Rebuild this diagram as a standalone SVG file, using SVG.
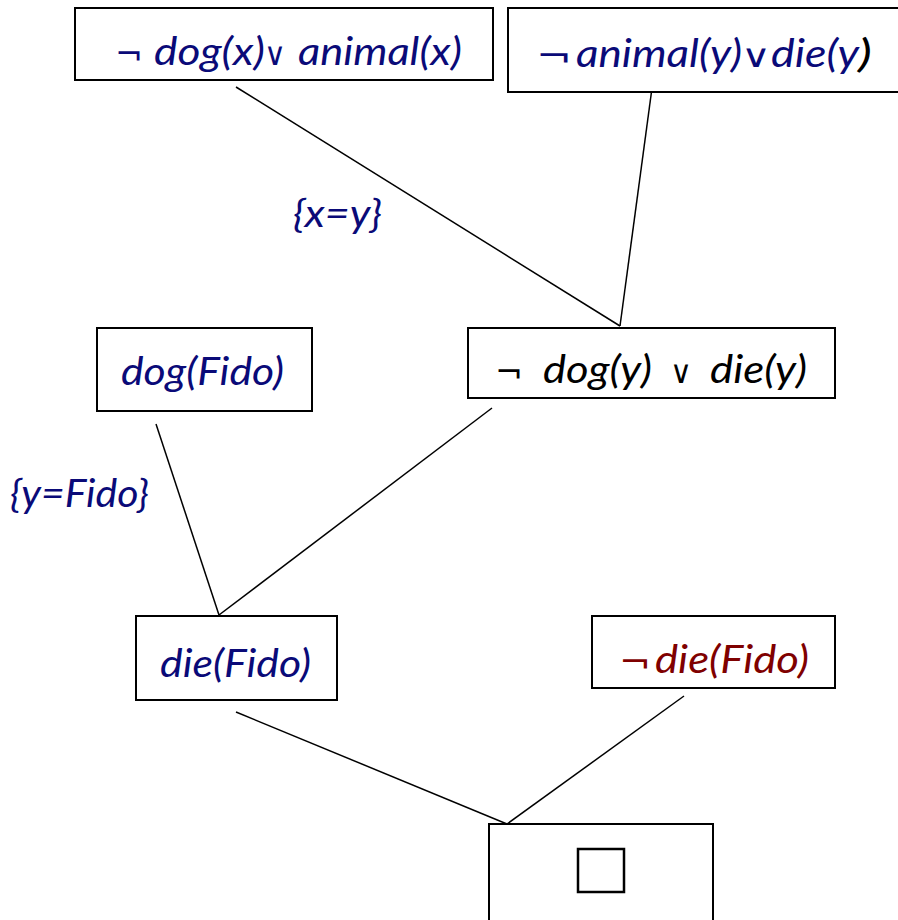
<svg xmlns="http://www.w3.org/2000/svg" width="898" height="920" viewBox="0 0 898 920">
<style>
.box{fill:#fff;stroke:#000;stroke-width:2}
.edge{stroke:#000;stroke-width:1.5;fill:none}
.t{font-family:Lato,"Open Sans","Noto Sans",sans-serif;font-style:italic;font-size:38px;fill:#0a0a78}
.red{fill:#7f0000}
.blk{fill:#000}
.neg{font-family:"DejaVu Sans",sans-serif;font-style:normal;font-weight:normal;font-size:34px}
.or{font-family:"DejaVu Sans",sans-serif;font-style:normal;font-weight:normal;font-size:32px}
</style>
<rect width="898" height="920" fill="#fff"/>
<g id="connectors">
<line class="edge" x1="236" y1="87" x2="620" y2="326"/>
<line class="edge" x1="652" y1="88" x2="620" y2="326"/>
<line class="edge" x1="156" y1="424" x2="219" y2="615"/>
<line class="edge" x1="492" y1="408" x2="219" y2="615"/>
<line class="edge" x1="236" y1="712" x2="507" y2="824"/>
<line class="edge" x1="684" y1="696" x2="507" y2="824"/>
</g>
<g id="n1">
<rect class="box" x="75" y="8" width="418" height="72"/>
<text class="t" y="65"><tspan class="neg" x="115" textLength="28" lengthAdjust="spacingAndGlyphs">¬</tspan><tspan x="154" textLength="111" lengthAdjust="spacingAndGlyphs">dog(x)</tspan><tspan class="or" x="264" textLength="22" lengthAdjust="spacingAndGlyphs">∨</tspan><tspan x="298" textLength="164" lengthAdjust="spacingAndGlyphs">animal(x)</tspan></text>
</g>
<g id="n2">
<rect class="box" x="508" y="8" width="400" height="84"/>
<text class="t" y="67"><tspan class="neg" x="536" textLength="36" lengthAdjust="spacingAndGlyphs">¬</tspan><tspan x="576" textLength="166" lengthAdjust="spacingAndGlyphs">animal(y)</tspan><tspan class="or" x="741" textLength="30" lengthAdjust="spacingAndGlyphs">∨</tspan><tspan x="771" textLength="88" lengthAdjust="spacingAndGlyphs">die(y</tspan><tspan class="blk" x="858" textLength="14" lengthAdjust="spacingAndGlyphs">)</tspan></text>
</g>
<g id="n3">
<rect class="box" x="468" y="328" width="367" height="70"/>
<text class="t blk" y="383"><tspan class="neg" x="495" textLength="28" lengthAdjust="spacingAndGlyphs">¬</tspan><tspan x="543" textLength="109" lengthAdjust="spacingAndGlyphs">dog(y)</tspan><tspan class="or" x="670" textLength="22" lengthAdjust="spacingAndGlyphs">∨</tspan><tspan x="710" textLength="97" lengthAdjust="spacingAndGlyphs">die(y)</tspan></text>
</g>
<g id="n4">
<rect class="box" x="97" y="328" width="215" height="83"/>
<text class="t" x="121" y="385" textLength="163" lengthAdjust="spacingAndGlyphs">dog(Fido)</text>
</g>
<g id="n5">
<rect class="box" x="136" y="616" width="201" height="84"/>
<text class="t" x="160" y="677" textLength="151" lengthAdjust="spacingAndGlyphs">die(Fido)</text>
</g>
<g id="n6">
<rect class="box" x="592" y="616" width="243" height="72"/>
<text class="t red" y="673"><tspan class="neg" x="619" textLength="32" lengthAdjust="spacingAndGlyphs">¬</tspan><tspan x="655" textLength="154" lengthAdjust="spacingAndGlyphs">die(Fido)</tspan></text>
</g>
<g id="n7">
<rect class="box" x="489" y="824" width="224" height="110"/>
<rect x="578" y="849" width="46" height="43" fill="none" stroke="#000" stroke-width="2.5"/>
</g>
<g id="labels">
<text class="t" x="293" y="227" textLength="89" lengthAdjust="spacingAndGlyphs">{x=y}</text>
<text class="t" x="10" y="507" textLength="139" lengthAdjust="spacingAndGlyphs">{y=Fido}</text>
</g>
</svg>
